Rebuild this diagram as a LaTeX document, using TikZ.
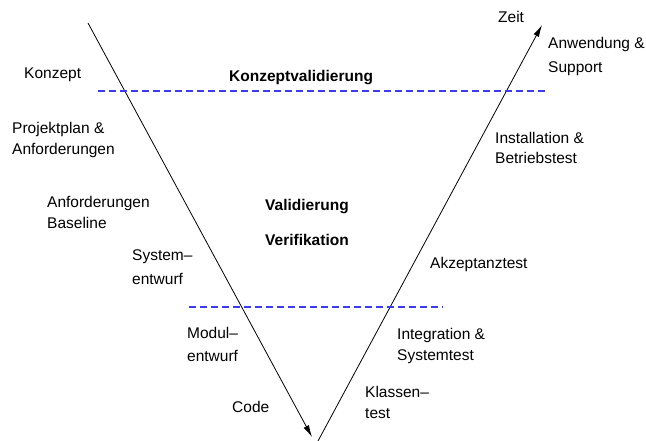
\documentclass[tikz,border=0pt]{standalone}
\usepackage{fontspec}
\setmainfont{Liberation Sans}
\usetikzlibrary{arrows.meta}
\definecolor{phaseblue}{RGB}{60,60,235}
\tikzset{
  lbl/.style={anchor=base west, inner sep=0pt, font=\fontsize{15.5}{21}\selectfont},
  head/.style={lbl, font=\fontsize{15.5}{21}\selectfont\bfseries},
  timeline/.style={line width=0.8pt, black, -{Latex[length=12pt,width=6pt]}},
  phase/.style={line width=1.3pt, phaseblue, dash pattern=on 7pt off 4pt}
}
\begin{document}
\begin{tikzpicture}[x=1pt,y=-1pt]
\useasboundingbox (0,0) rectangle (646,441);

% the V: development going down, testing going up
\coordinate (downstart) at (88,23);
\coordinate (downend) at (312,437);
\coordinate (upstart) at (318,441);
\coordinate (upend) at (542,25);
\draw[timeline] (downstart) -- (downend);
\draw[timeline] (upstart) -- (upend);

% validation levels
\coordinate (topL) at (98,91);
\coordinate (topR) at (545,91);
\coordinate (lowL) at (189,307);
\coordinate (lowR) at (443,307);
\draw[phase] (topL) -- (topR);
\draw[phase] (lowL) -- (lowR);

% time axis label
\node[lbl] (zeit) at (498,22.5) {Zeit};

% left side phases
\node[lbl] (konzept) at (24,78.5) {Konzept};
\node[lbl] (pp1) at (12,133.5) {Projektplan \&};
\node[lbl] (pp2) at (12,154.5) {Anforderungen};
\node[lbl] (ab1) at (47,207.5) {Anforderungen};
\node[lbl] (ab2) at (47,228.5) {Baseline};
\node[lbl] (se1) at (132,260.5) {System–};
\node[lbl] (se2) at (132,284) {entwurf};
\node[lbl] (me1) at (187,338.5) {Modul–};
\node[lbl] (me2) at (187,361.5) {entwurf};
\node[lbl] (code) at (232,412.5) {Code};

% right side phases
\node[lbl] (kt1) at (365,397.5) {Klassen–};
\node[lbl] (kt2) at (365,418.5) {test};
\node[lbl] (is1) at (397,339.5) {Integration \&};
\node[lbl] (is2) at (397,360.5) {Systemtest};
\node[lbl] (akz) at (430,268.5) {Akzeptanztest};
\node[lbl] (ib1) at (495,143.5) {Installation \&};
\node[lbl] (ib2) at (495,164) {Betriebstest};
\node[lbl] (as1) at (548,49) {Anwendung \&};
\node[lbl] (as2) at (548,73) {Support};

% centre headings
\node[head] (kval) at (229,81.5) {Konzeptvalidierung};
\node[head] (val) at (265,210.5) {Validierung};
\node[head] (ver) at (265,245.5) {Verifikation};
\end{tikzpicture}
\end{document}
